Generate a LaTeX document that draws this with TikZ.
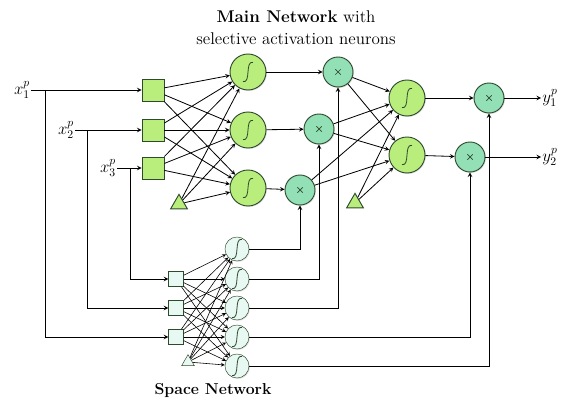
\documentclass[tikz,border=0pt]{standalone}
\usetikzlibrary{shapes,arrows,positioning,shadows}

\definecolor{lime}{HTML}{B9EE7C}
\definecolor{mint}{HTML}{93E0B6}
\definecolor{pale}{HTML}{E8F8F2}
\definecolor{edge}{HTML}{2E4A2E}

% sigmoid and product marks drawn inside the nodes
\newcommand{\sigmark}[1]{\draw[edge, line width=0.7pt, shift={(path picture bounding box.center)}, scale=#1]
  (-0.15cm,-0.29cm) .. controls (0.1cm,-0.34cm) and (-0.1cm,0.34cm) .. (0.15cm,0.29cm);}
\newcommand{\prodmark}{\draw[edge, line width=0.6pt, shift={(path picture bounding box.center)}]
  (-0.08cm,-0.08cm) -- (0.08cm,0.08cm) (-0.08cm,0.08cm) -- (0.08cm,-0.08cm);}

\begin{document}
\begin{tikzpicture}[x=0.03cm, y=-0.03cm,
    shade/.style={drop shadow={opacity=0.25, shadow xshift=0.8pt, shadow yshift=-0.8pt}},
    inbox/.style={rectangle, draw=edge, fill=lime, thick, minimum size=0.66cm, inner sep=0pt, shade},
    bias/.style={regular polygon, regular polygon sides=3, draw=edge, fill=lime, thick, minimum size=0.58cm, inner sep=0pt},
    sig/.style={circle, draw=edge, fill=lime, thick, minimum size=1.08cm, inner sep=0pt, shade, path picture={\sigmark{1}}},
    prod/.style={circle, draw=edge, fill=mint, thick, minimum size=0.9cm, inner sep=0pt, shade, path picture={\prodmark}},
    sbox/.style={rectangle, draw=edge, fill=pale, minimum size=0.45cm, inner sep=0pt},
    sbias/.style={regular polygon, regular polygon sides=3, draw=edge, fill=pale, minimum size=0.44cm, inner sep=0pt},
    ssig/.style={circle, draw=edge, fill=pale, minimum size=0.72cm, inner sep=0pt, shade, path picture={\sigmark{0.6}}},
    lab/.style={inner sep=1pt, font=\fontsize{14}{16}\selectfont},
    caption/.style={align=center, font=\fontsize{14.5}{19}\selectfont},
    arrow/.style={->, >=stealth, line width=0.7pt},
    sarrow/.style={->, >=stealth, line width=0.5pt}
]
\useasboundingbox (0,0) rectangle (562,400);

% main network
\node[caption] (title) at (296,28) {\textbf{Main Network} with\\selective activation neurons};

\node[inbox] (i1) at (153,90) {};
\node[inbox] (i2) at (153,130) {};
\node[inbox] (i3) at (153,168) {};
\node[bias] (b1) at (179,204) {};

\node[sig] (h1) at (248,72) {};
\node[sig] (h2) at (248,130) {};
\node[sig] (h3) at (248,188) {};

\node[prod] (m1) at (338,72) {};
\node[prod] (m2) at (319,129) {};
\node[prod] (m3) at (300,190) {};
\node[bias] (b2) at (355,203) {};

\node[sig] (o1) at (407,98) {};
\node[sig] (o2) at (407,155) {};
\node[prod] (p1) at (489,98) {};
\node[prod] (p2) at (470,157) {};

\node[lab] (y1) at (550,98) {$y_1^p$};
\node[lab] (y2) at (550,157) {$y_2^p$};

% inputs
\node[lab] (x1) at (22,90) {$x_1^p$};
\node[lab] (x2) at (66,130) {$x_2^p$};
\node[lab] (x3) at (108,168) {$x_3^p$};
\coordinate (j1) at (45,90);
\coordinate (j2) at (87,130);
\coordinate (j3) at (130,168);

% space network
\node[sbox] (s1) at (176,279) {};
\node[sbox] (s2) at (176,308) {};
\node[sbox] (s3) at (176,337) {};
\node[sbias] (sb) at (188,362) {};

\node[ssig] (r1) at (237,249) {};
\node[ssig] (r2) at (237,279) {};
\node[ssig] (r3) at (237,308) {};
\node[ssig] (r4) at (237,337) {};
\node[ssig] (r5) at (237,366) {};

\node[caption, font=\bfseries\fontsize{13.5}{18}\selectfont] (stitle) at (213,391) {Space Network};

% connections
\draw[arrow] (x1) -- (i1);
\draw[arrow] (x2) -- (i2);
\draw[arrow] (x3) -- (i3);
\draw[arrow] (j1) |- (s3);
\draw[arrow] (j2) |- (s2);
\draw[arrow] (j3) |- (s1);

\foreach \a in {i1,i2,i3,b1}
  \foreach \b in {h1,h2,h3}
    \draw[arrow] (\a) -- (\b);
\draw[arrow] (h1) -- (m1);
\draw[arrow] (h2) -- (m2);
\draw[arrow] (h3) -- (m3);
\foreach \a in {m1,m2,m3,b2}
  \foreach \b in {o1,o2}
    \draw[arrow] (\a) -- (\b);
\draw[arrow] (o1) -- (p1);
\draw[arrow] (o2) -- (p2);
\draw[arrow] (p1) -- (y1);
\draw[arrow] (p2) -- (y2);

\foreach \a in {s1,s2,s3,sb}
  \foreach \b in {r1,r2,r3,r4,r5}
    \draw[sarrow] (\a) -- (\b);
\draw[arrow] (r1) -| (m3);
\draw[arrow] (r2) -| (m2);
\draw[arrow] (r3) -| (m1);
\draw[arrow] (r4) -| (p2);
\draw[arrow] (r5) -| (p1);

\end{tikzpicture}
\end{document}
